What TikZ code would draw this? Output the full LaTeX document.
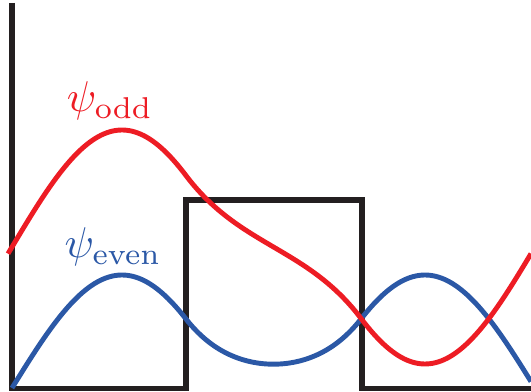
\documentclass[tikz,border=0pt]{standalone}
\usepackage{tikz}
\definecolor{oddred}{RGB}{237,28,36}
\definecolor{evenblue}{RGB}{43,88,166}
\definecolor{wallblack}{RGB}{35,31,32}

\begin{document}
\begin{tikzpicture}[x=0.02cm, y=0.02cm,
    wall/.style={wallblack, line width=3pt, line join=miter},
    wave/.style={line width=2.8pt}]
  \useasboundingbox (0,0) rectangle (531,392);
  \coordinate (T) at (12,389);
  \coordinate (O) at (12,3.5);
  \coordinate (BL) at (186,3.5);
  \coordinate (BTL) at (186,192);
  \coordinate (BTR) at (362,192);
  \coordinate (BR) at (362,3.5);
  \coordinate (E) at (531,3.5);
  \draw[wall] (T)--(O)--(BL)--(BTL)--(BTR)--(BR)--(E);
  % sine in the wells, cosh / sinh under the barrier (centre 273.5)
  \draw[wave, evenblue] plot[domain=12:186, samples=60] (\x, {4+113*sin(0.81818*(\x-12))})
     -- plot[domain=186:361, samples=60] (\x, {4+113*0.21065*cosh(0.01973*(\x-273.5))})
     -- plot[domain=361:531, samples=60] (\x, {4+113*sin(0.81818*(535-\x))});
  \draw[wave, oddred] plot[domain=8:186, samples=60] (\x, {145+117*sin(0.81818*(\x-12))})
     -- plot[domain=186:361, samples=60] (\x, {145-117*0.3026*sinh(0.01659*(\x-273.5))})
     -- plot[domain=361:531, samples=60] (\x, {145-117*sin(0.81818*(535-\x))});
  \node[oddred, scale=2.45] (lbl-odd) at (110,291) {$\psi_{\mathrm{odd}}$};
  \node[evenblue, scale=2.45] (lbl-even) at (113,145) {$\psi_{\mathrm{even}}$};
\end{tikzpicture}
\end{document}
